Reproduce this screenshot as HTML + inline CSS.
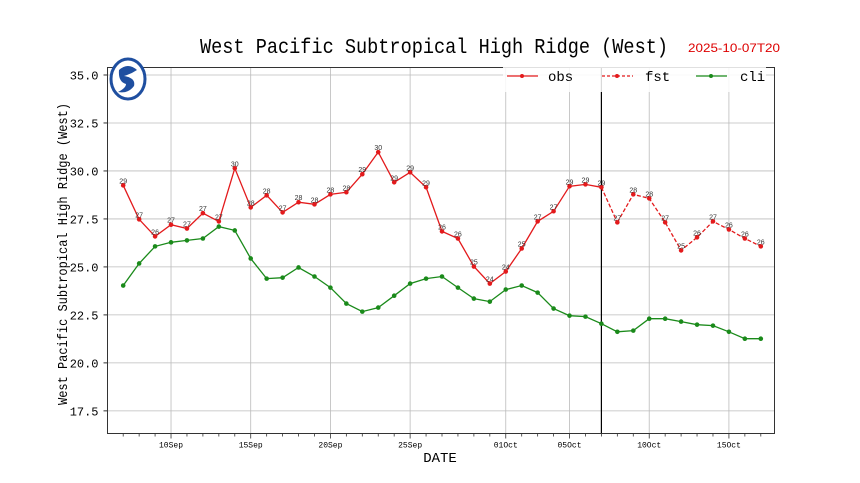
<!DOCTYPE html>
<html><head><meta charset="utf-8"><style>
body{margin:0;background:#fff;}
svg{display:block;font-family:"Liberation Mono","DejaVu Sans Mono",monospace;}
</style></head><body>
<svg id="chart" width="860" height="483" xmlns="http://www.w3.org/2000/svg">
<text x="200" y="53" textLength="468" lengthAdjust="spacingAndGlyphs" font-size="21" fill="#000">West Pacific Subtropical High Ridge (West)</text>
<text x="688" y="52" textLength="92" lengthAdjust="spacingAndGlyphs" font-size="12" fill="#d00" font-family="Liberation Sans, sans-serif">2025-10-07T20</text>
<g id="grid"></g>
<g id="series"></g>
<rect x="107.5" y="67.5" width="667" height="366" fill="none" stroke="#333" stroke-width="1"/>
<g id="axes"></g>
<g>
<ellipse cx="128" cy="79" rx="17" ry="20" fill="#fff" stroke="#1f4fa0" stroke-width="3"/>
<path d="M119 70 Q128 62 137 70 Q131 74 124 76 Q136 78 134 86 Q128 94 118 92 Q126 88 126 84 Q118 82 119 70Z" fill="#1f4fa0"/>
</g>
<g>
<rect x="503" y="64" width="263" height="28" fill="#fff" fill-opacity="0.85"/>
<g><line x1="507" y1="76" x2="538" y2="76" stroke="#e31a1c" stroke-width="1.3"/><circle cx="522" cy="76" r="2" fill="#e31a1c"/><text x="548" y="81" font-size="14">obs</text></g>
<g><line x1="602" y1="76" x2="633" y2="76" stroke="#e31a1c" stroke-width="1.3" stroke-dasharray="3,2"/><circle cx="617" cy="76" r="2" fill="#e31a1c"/><text x="645" y="81" font-size="14">fst</text></g>
<g><line x1="696" y1="76" x2="727" y2="76" stroke="#1a8a1a" stroke-width="1.3"/><circle cx="711" cy="76" r="2" fill="#1a8a1a"/><text x="740" y="81" font-size="14">cli</text></g>
</g>
<text x="440" y="462" text-anchor="middle" font-size="14">DATE</text>
<text transform="translate(67,405) rotate(-90)" textLength="302" lengthAdjust="spacingAndGlyphs" font-size="14">West Pacific Subtropical High Ridge (West)</text>
</svg>
<script>
const obsValues=[29.25,27.48,26.59,27.2,27.0,27.8,27.37,30.14,28.1,28.73,27.84,28.37,28.26,28.78,28.89,29.83,30.98,29.41,29.93,29.15,26.85,26.48,25.02,24.13,24.76,25.96,27.37,27.9,29.2,29.3,29.15];
const fstValues=[29.15,27.32,28.78,28.57,27.32,25.86,26.54,27.37,26.95,26.48,26.07];
const cliValues=[24.03,25.18,26.07,26.28,26.38,26.48,27.1,26.9,25.44,24.39,24.44,24.97,24.5,23.92,23.09,22.67,22.88,23.5,24.13,24.39,24.5,23.92,23.35,23.19,23.82,24.03,23.66,22.83,22.46,22.41,22.04,21.62,21.68,22.3,22.3,22.15,21.99,21.94,21.62,21.26,21.26];
const yTicks=[17.5,20.0,22.5,25.0,27.5,30.0,32.5,35.0];
const xTickDays=[3,8,13,18,24,28,33,38];
const xTickLabels=["10Sep","15Sep","20Sep","25Sep","01Oct","05Oct","10Oct","15Oct"];
const obsStartDay=0, fstStartDay=30, cliStartDay=0, analysisDay=30;

const NS="http://www.w3.org/2000/svg";
const L=107.5,R=774.5,T=67.5,B=433.5;
const yMin=16.32,yMax=35.39;
function xs(d){return 123.2+d*15.94;}
function ys(v){return T+(yMax-v)/(yMax-yMin)*(B-T);}
function mk(tag,attrs,parent){const e=document.createElementNS(NS,tag);for(const k in attrs)e.setAttribute(k,attrs[k]);parent.appendChild(e);return e;}
const grid=document.getElementById('grid'),axes=document.getElementById('axes'),ser=document.getElementById('series');
yTicks.forEach(v=>{
  const y=ys(v);
  const g=mk('line',{x1:L,x2:R,y1:y,y2:y,stroke:'#bbb','stroke-width':0.8},grid);
  
  
  mk('line',{x1:L-4,x2:L,y1:y,y2:y,stroke:'#333'},axes);
  const t=mk('text',{x:L-9,y:y+4.5,'text-anchor':'end','font-size':12},axes);
  t.textContent=v.toFixed(1);
  
  
});
for(let d=0;d<=40;d++){
  const x=xs(d);
  const major=xTickDays.indexOf(d);
  mk('line',{x1:x,x2:x,y1:B,y2:B+(major>=0?5:3),stroke:'#333','stroke-width':0.8},axes);
  if(major>=0){
    const g=mk('line',{x1:x,x2:x,y1:T,y2:B,stroke:'#bbb','stroke-width':0.8},grid);
    
    
    const t=mk('text',{x:x,y:B+14,'text-anchor':'middle','font-size':8},axes);
    t.textContent=xTickLabels[major];
    
    
  }
}
const vl=mk('line',{x1:xs(analysisDay),x2:xs(analysisDay),y1:T,y2:B,stroke:'#000','stroke-width':1.2},ser);


function drawSeries(vals,start,color,dash,name,labels){
  const pts=vals.map((v,i)=>xs(start+i).toFixed(1)+','+ys(v).toFixed(1)).join(' ');
  const pl=mk('polyline',{points:pts,fill:'none',stroke:color,'stroke-width':1.3},ser);
  if(dash)pl.setAttribute('stroke-dasharray','4,2');
  
  
  vals.forEach((v,i)=>{
    const c=mk('circle',{cx:xs(start+i),cy:ys(v),r:2.3,fill:color},ser);
    
    
    if(labels){
      const t=mk('text',{x:xs(start+i),y:ys(v)-2,'text-anchor':'middle','font-size':7,fill:'#333','font-family':'Liberation Sans, sans-serif'},ser);
      t.textContent=Math.floor(v);
      
      
    }
  });
}
drawSeries(cliValues,cliStartDay,'#1a8a1a',false,'cli',false);
drawSeries(obsValues,obsStartDay,'#e31a1c',false,'obs',true);
drawSeries(fstValues.slice(1),fstStartDay+1,'#e31a1c',true,'fst',true);
(function(){const pts=fstValues.map((v,i)=>xs(fstStartDay+i).toFixed(1)+','+ys(v).toFixed(1)).slice(0,2).join(' ');
const pl=mk('polyline',{points:pts,fill:'none',stroke:'#e31a1c','stroke-width':1.3,'stroke-dasharray':'4,2'},ser);

})();
</script>
</body></html>
